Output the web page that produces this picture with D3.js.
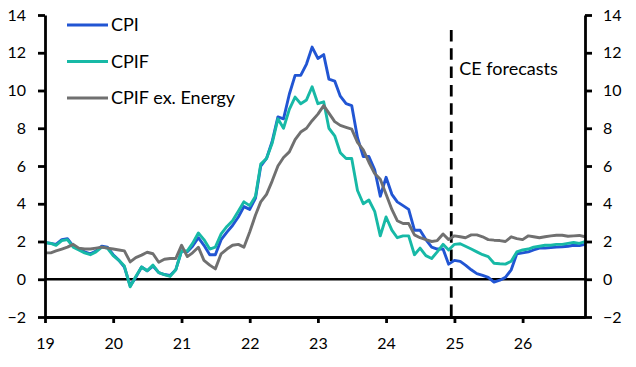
<!DOCTYPE html>
<html>
<head>
<meta charset="utf-8">
<script src="https://cdn.jsdelivr.net/npm/d3@7"></script>
<style>
    html, body { margin: 0; padding: 0; background: #fff; }
    svg { display: block; }
</style>
</head>
<body>
<div id="chart"></div>
<script>
// Monthly y/y inflation, Jan 2019 to Dec 2026 (from Jan 2025 = forecasts)
const firstMonth = new Date(2019, 0, 1);
const lastMonth = new Date(2026, 11, 1);
const forecastStart = new Date(2024, 11, 15);
const forecastLabel = "CE forecasts";

const cpi = [
    1.95, 1.9, 1.85, 2.1, 2.15, 1.75, 1.6, 1.45, 1.35, 1.5, 1.75, 1.7,
    1.3, 1.0, 0.65, -0.35, 0.1, 0.65, 0.45, 0.7, 0.35, 0.25, 0.2, 0.5,
    1.5, 1.45, 1.75, 2.2, 1.8, 1.3, 1.3, 2.1, 2.5, 2.85, 3.3, 3.85,
    3.7, 4.3, 6.0, 6.4, 7.3, 8.6, 8.5, 9.8, 10.8, 10.8, 11.4, 12.3,
    11.7, 11.9, 10.6, 10.5, 9.7, 9.3, 9.2, 7.5, 6.5, 6.5, 5.8, 4.4,
    5.4, 4.5, 4.1, 3.9, 3.7, 2.6, 2.6, 2.1, 1.7, 1.6, 1.6, 0.8,
    1.0, 0.95, 0.75, 0.5, 0.3, 0.2, 0.1, -0.15, -0.05, 0.1, 0.5, 1.35,
    1.4, 1.45, 1.55, 1.65, 1.65, 1.68, 1.7, 1.72, 1.75, 1.8, 1.78, 1.85
];

const cpif = [
    1.95, 1.9, 1.8, 2.05, 2.1, 1.7, 1.55, 1.4, 1.3, 1.45, 1.7, 1.65,
    1.25, 1.0, 0.7, -0.4, 0.15, 0.65, 0.45, 0.75, 0.35, 0.25, 0.15, 0.5,
    1.5, 1.5, 1.9, 2.45, 2.1, 1.6, 1.7, 2.4, 2.8, 3.1, 3.6, 4.1,
    3.9, 4.4, 6.1, 6.4, 7.2, 8.5, 8.0, 9.0, 9.65, 9.3, 9.5, 10.2,
    9.3, 9.4, 8.0, 7.6, 6.7, 6.4, 6.4, 4.7, 4.0, 4.2, 3.6, 2.3,
    3.3, 2.6, 2.2, 2.3, 2.3, 1.3, 1.65, 1.25, 1.1, 1.45, 1.85, 1.55,
    1.85, 1.88, 1.75, 1.6, 1.45, 1.3, 1.2, 0.85, 0.82, 0.8, 0.95, 1.45,
    1.55, 1.6, 1.7, 1.75, 1.8, 1.8, 1.85, 1.85, 1.9, 1.95, 1.9, 2.0
];

const cpifExEnergy = [
    1.4, 1.4, 1.5, 1.6, 1.7, 1.85, 1.65, 1.6, 1.6, 1.65, 1.7, 1.65,
    1.6, 1.55, 1.5, 0.92, 1.15, 1.28, 1.43, 1.35, 0.9, 1.06, 1.1, 1.1,
    1.8, 1.2, 1.4, 1.7, 1.0, 0.75, 0.55, 1.35, 1.6, 1.8, 1.85, 1.7,
    2.5, 3.4, 4.1, 4.5, 5.2, 6.0, 6.45, 6.75, 7.4, 7.8, 8.0, 8.4,
    8.75, 9.2, 8.8, 8.35, 8.15, 8.05, 7.95, 7.25, 6.85, 6.2, 5.6, 5.3,
    4.5, 3.7, 3.1, 2.95, 2.95, 2.35, 2.2, 2.1, 2.0, 2.05, 2.4, 2.1,
    2.3, 2.25, 2.2, 2.35, 2.35, 2.25, 2.1, 2.07, 2.05, 2.0, 2.25, 2.15,
    2.1, 2.3, 2.25, 2.2, 2.25, 2.3, 2.33, 2.33, 2.28, 2.3, 2.32, 2.25
];

const seriesNames = ["CPI", "CPIF", "CPIF ex. Energy"];
const seriesColors = ["#2155d3", "#17b9a6", "#707070"];
const yTicks = [-2, 0, 2, 4, 6, 8, 10, 12, 14];
const xTickYears = [2019, 2020, 2021, 2022, 2023, 2024, 2025, 2026];

const width = 636;
const height = 367;
const margin = { top: 15, right: 51, bottom: 50, left: 45 };
const font = "Lato, 'Open Sans', sans-serif";
const tickFontSize = 16;
const labelFontSize = 18;

const svg = d3.select("#chart")
    .append("svg")
    .attr("width", width)
    .attr("height", height);

svg.append("rect")
    .attr("width", width)
    .attr("height", height)
    .attr("fill", "#fff");

const x = d3.scaleTime()
    .domain([firstMonth, lastMonth])
    .range([margin.left, width - margin.right]);

const y = d3.scaleLinear()
    .domain([-2, 14])
    .range([height - margin.bottom, margin.top]);

const monthDate = i => new Date(firstMonth.getFullYear(), firstMonth.getMonth() + i, 1);

// Zero line
svg.append("line")
    .attr("x1", x.range()[0]).attr("x2", x.range()[1])
    .attr("y1", y(0)).attr("y2", y(0))
    .attr("stroke", "#000")
    .attr("stroke-width", 2.6);

// Forecast divider
svg.append("line")
    .attr("x1", x(forecastStart)).attr("x2", x(forecastStart))
    .attr("y1", 30).attr("y2", y(-2))
    .attr("stroke", "#000")
    .attr("stroke-width", 2.8)
    .attr("stroke-dasharray", "11.5,6.8");

svg.append("text")
    .attr("x", x(forecastStart) + 8)
    .attr("y", 75)
    .attr("font-family", font)
    .attr("font-size", labelFontSize + "px")
    .attr("fill", "#000")
    .text(forecastLabel);

// Series lines
const line = d3.line()
    .x((d, i) => x(monthDate(i)))
    .y(d => y(d));

const series = [cpi, cpif, cpifExEnergy];
series.forEach((values, k) => {
    svg.append("path")
        .datum(values)
        .attr("fill", "none")
        .attr("stroke", seriesColors[k])
        .attr("stroke-width", 2.9)
        .attr("stroke-linejoin", "round")
        .attr("d", line);
});

// Axes
const styleAxis = g => {
    g.select(".domain").attr("stroke", "#000").attr("stroke-width", 2.8);
    g.selectAll(".tick line").attr("stroke", "#000").attr("stroke-width", 2.8);
    g.selectAll(".tick text")
        .attr("font-family", font)
        .attr("font-size", tickFontSize + "px")
        .attr("fill", "#000");
};

svg.append("g")
    .attr("transform", `translate(${x.range()[0]},0)`)
    .call(d3.axisLeft(y).tickValues(yTicks).tickSize(7).tickSizeOuter(0).tickPadding(12))
    .call(styleAxis);

svg.append("g")
    .attr("transform", `translate(${x.range()[1]},0)`)
    .call(d3.axisRight(y).tickValues(yTicks).tickSize(7).tickSizeOuter(0).tickPadding(11))
    .call(styleAxis);

svg.append("g")
    .attr("transform", `translate(0,${y(-2)})`)
    .call(d3.axisBottom(x)
        .tickValues(xTickYears.map(yr => new Date(yr, 0, 1)))
        .tickFormat(d3.timeFormat("%y"))
        .tickSize(6).tickSizeOuter(0).tickPadding(15))
    .call(styleAxis);

// Legend
const legend = svg.append("g")
    .attr("transform", "translate(67,25)");

seriesNames.forEach((name, k) => {
    const row = legend.append("g").attr("transform", `translate(0,${k * 36.5})`);
    row.append("line")
        .attr("x1", 0).attr("x2", 41)
        .attr("stroke", seriesColors[k])
        .attr("stroke-width", 2.9);
    row.append("text")
        .attr("x", 44)
        .attr("dy", "0.36em")
        .attr("font-family", font)
        .attr("font-size", labelFontSize + "px")
        .attr("fill", "#000")
        .text(name);
});
</script>
</body>
</html>
